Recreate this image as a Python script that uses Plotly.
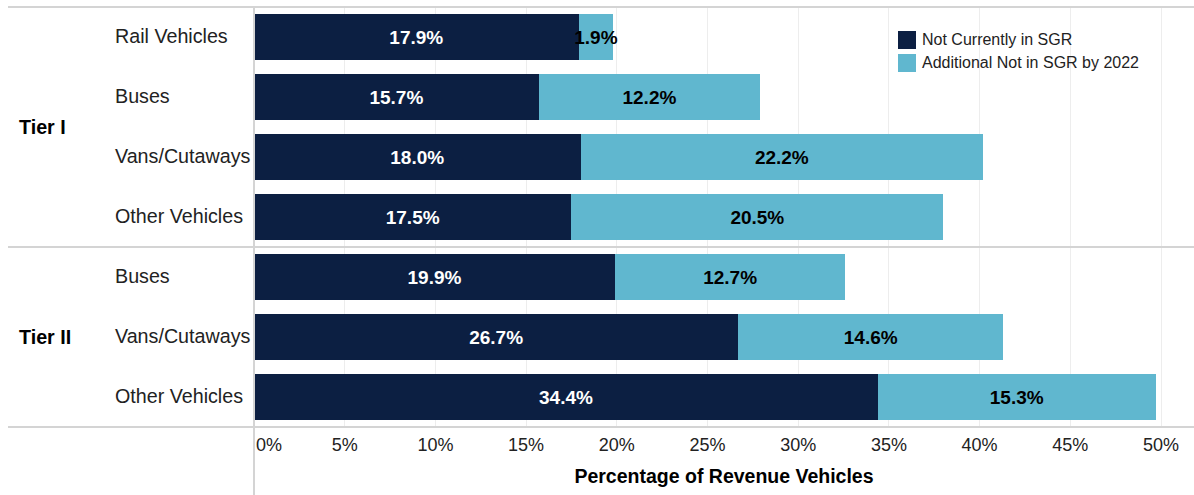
import plotly.graph_objects as go

tiers = ["Tier I", "Tier I", "Tier I", "Tier I", "Tier II", "Tier II", "Tier II"]
vehicle_types = ["Rail Vehicles", "Buses", "Vans/Cutaways", "Other Vehicles",
                 "Buses", "Vans/Cutaways", "Other Vehicles"]
not_current = [17.9, 15.7, 18.0, 17.5, 19.9, 26.7, 34.4]
additional = [1.9, 12.2, 22.2, 20.5, 12.7, 14.6, 15.3]
series_names = ["Not Currently in SGR", "Additional Not in SGR by 2022"]
tick_vals = [0, 5, 10, 15, 20, 25, 30, 35, 40, 45, 50]
tick_text = ["\u2007\u2007\u20070%", "5%", "10%", "15%", "20%", "25%", "30%",
             "35%", "40%", "45%", "50%"]

DARK = "#0c1f42"
LIGHT = "#60b7cf"
FONT = "Liberation Sans, Arial, sans-serif"

W, H = 1194, 495
L, R, T, B = 254, 0, 7, 68
PW = W - L - R
PH = H - T - B

rows = list(range(len(vehicle_types)))

fig = go.Figure()
for vals, name, col, tcol in [(not_current, series_names[0], DARK, "white"),
                              (additional, series_names[1], LIGHT, "black")]:
    fig.add_trace(go.Bar(
        y=rows, x=vals, orientation="h", name=name, showlegend=False,
        marker=dict(color=col, line=dict(width=0)), width=0.77,
        text=[f"{v:.1f}%" for v in vals], textposition="inside", textangle=0,
        insidetextanchor="middle", constraintext="none",
        textfont=dict(color=tcol, size=19, family=FONT, weight="bold"),
        hoverinfo="skip",
    ))

annotations = []
for r, name in zip(rows, vehicle_types):
    annotations.append(dict(x=0, xref="paper", y=r, yref="y", text=name,
                            xanchor="left", xshift=113 - L, yshift=1, showarrow=False,
                            font=dict(size=19.7, family=FONT, color="#222")))
tier_names = []
for t in tiers:
    if t not in tier_names:
        tier_names.append(t)
for t in tier_names:
    idx = [i for i, tt in enumerate(tiers) if tt == t]
    annotations.append(dict(x=0, xref="paper", y=sum(idx) / len(idx), yref="y",
                            text=f"<b>{t}</b>", xanchor="left", xshift=17 - L,
                            showarrow=False,
                            font=dict(size=19.7, family=FONT, color="black")))

line_col = "#d4d4d4"
x_left = -(L - 8) / PW
shapes = [
    dict(type="line", xref="paper", yref="paper", x0=x_left, x1=1, y0=1, y1=1,
         line=dict(color=line_col, width=2)),
    dict(type="line", xref="paper", yref="paper", x0=x_left, x1=1, y0=0, y1=0,
         line=dict(color=line_col, width=2)),
    dict(type="line", xref="paper", yref="y", x0=x_left, x1=1, y0=3.5, y1=3.5,
         line=dict(color=line_col, width=2)),
    dict(type="line", xref="paper", yref="paper", x0=0, x1=0, y0=-B / PH, y1=1,
         line=dict(color=line_col, width=2)),
]

def px_x(px):
    return (px - L) / PW

def px_y(py):
    return 1 - (py - T) / PH

for i, (name, col) in enumerate(zip(series_names, [DARK, LIGHT])):
    cy = 40 + 23 * i
    shapes.append(dict(type="rect", xref="paper", yref="paper",
                       x0=px_x(898), x1=px_x(916), y0=px_y(cy + 9), y1=px_y(cy - 9),
                       fillcolor=col, line=dict(width=0)))
    annotations.append(dict(x=px_x(920), y=px_y(cy), xref="paper", yref="paper",
                            text=name, xanchor="left", yanchor="middle",
                            showarrow=False,
                            font=dict(size=16, family=FONT, color="#222")))

fig.update_layout(
    width=W, height=H, barmode="stack",
    margin=dict(l=L, r=R, t=T, b=B),
    plot_bgcolor="white", paper_bgcolor="white",
    font=dict(family=FONT, size=18, color="#222"),
    showlegend=False,
    xaxis=dict(range=[0, PW / 18.14], tickvals=tick_vals, ticktext=tick_text,
               showgrid=True, gridcolor="#ededed", gridwidth=1,
               zeroline=False, showline=False, ticks="outside", ticklen=1,
               tickcolor="rgba(0,0,0,0)",
               tickfont=dict(size=18, family=FONT, color="#222"),
               title=dict(text="<b>Percentage of Revenue Vehicles</b>",
                          font=dict(size=19.5, family=FONT, color="black"),
                          standoff=15)),
    yaxis=dict(range=[6.5, -0.5], showticklabels=False, showgrid=False,
               zeroline=False, showline=False, ticks=""),
    annotations=annotations, shapes=shapes,
)

fig.write_html("out.html", config={"displayModeBar": False},
               post_script="document.body.style.margin='0px';")
